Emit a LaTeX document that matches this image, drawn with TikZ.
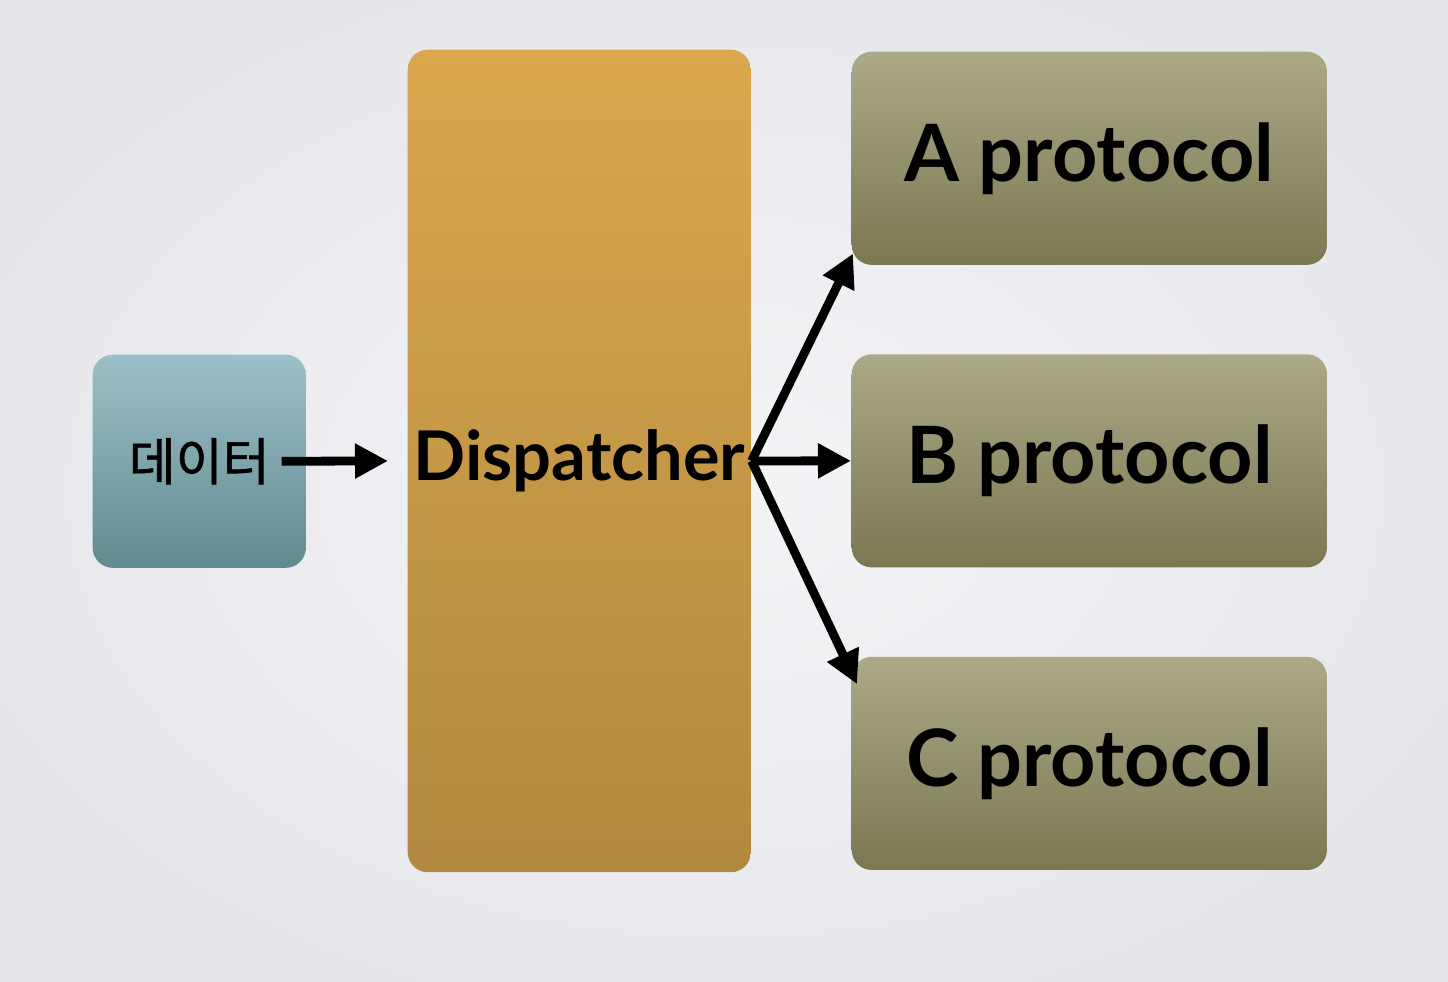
\documentclass[tikz,border=0pt]{standalone}
\usepackage{fontspec}
\setmainfont{Lato}
\newfontfamily\krfont[FakeBold=1.2]{Noto Sans CJK KR}
\usetikzlibrary{positioning,calc,arrows.meta,shadings}

\definecolor{bgIn}{RGB}{244,244,247}
\definecolor{bgOut}{RGB}{229,230,234}
\definecolor{tealTop}{RGB}{156,192,199}
\definecolor{tealBot}{RGB}{98,138,145}
\definecolor{dispTop}{RGB}{218,167,78}
\definecolor{dispBot}{RGB}{176,137,64}
\definecolor{olvTop}{RGB}{172,169,136}
\definecolor{olvBot}{RGB}{122,119,81}

\begin{document}
\begin{tikzpicture}[x=0.01cm,y=-0.01cm,
    box/.style={rounded corners=0.2cm,inner sep=0pt,anchor=north west,
      font=\bfseries\fontsize{22.5}{27}\selectfont},
    proto/.style={box,minimum width=4.75cm,minimum height=2.13cm,
      top color=olvTop,bottom color=olvBot},
    flow/.style={line width=2.5pt,-{Triangle[length=0.33cm,width=0.33cm]}}]
  \useasboundingbox (0,0) rectangle (1448,982);
  \shade[inner color=bgIn,outer color=bgOut] (-150,-100) rectangle (1598,1082);

  \node[box,minimum width=2.13cm,minimum height=2.13cm,top color=tealTop,bottom color=tealBot,
    font=\krfont\fontsize{14.5}{16}\selectfont] (data) at (92,354) {데이터};
  \node[box,minimum width=3.43cm,minimum height=8.22cm,top color=dispTop,bottom color=dispBot,
    font=\bfseries\fontsize{19.5}{24}\selectfont] (disp) at (407,49) {Dispatcher};
  \node[proto] (pa) at (851,51) {A protocol};
  \node[proto,below=0.88cm of pa] (pb) {B protocol};
  \node[proto,below=0.88cm of pb] (pc) {C protocol};

  \draw[flow] ($(data.east)+(-25,0)$) -- ($(disp.west)+(-19,0)$);
  \draw[flow] (disp.east) -- ($(pa.south west)+(2,-12)$);
  \draw[flow] (disp.east) -- (pb.west);
  \draw[flow] (disp.east) -- ($(pc.north west)+(6,28)$);
\end{tikzpicture}
\end{document}
